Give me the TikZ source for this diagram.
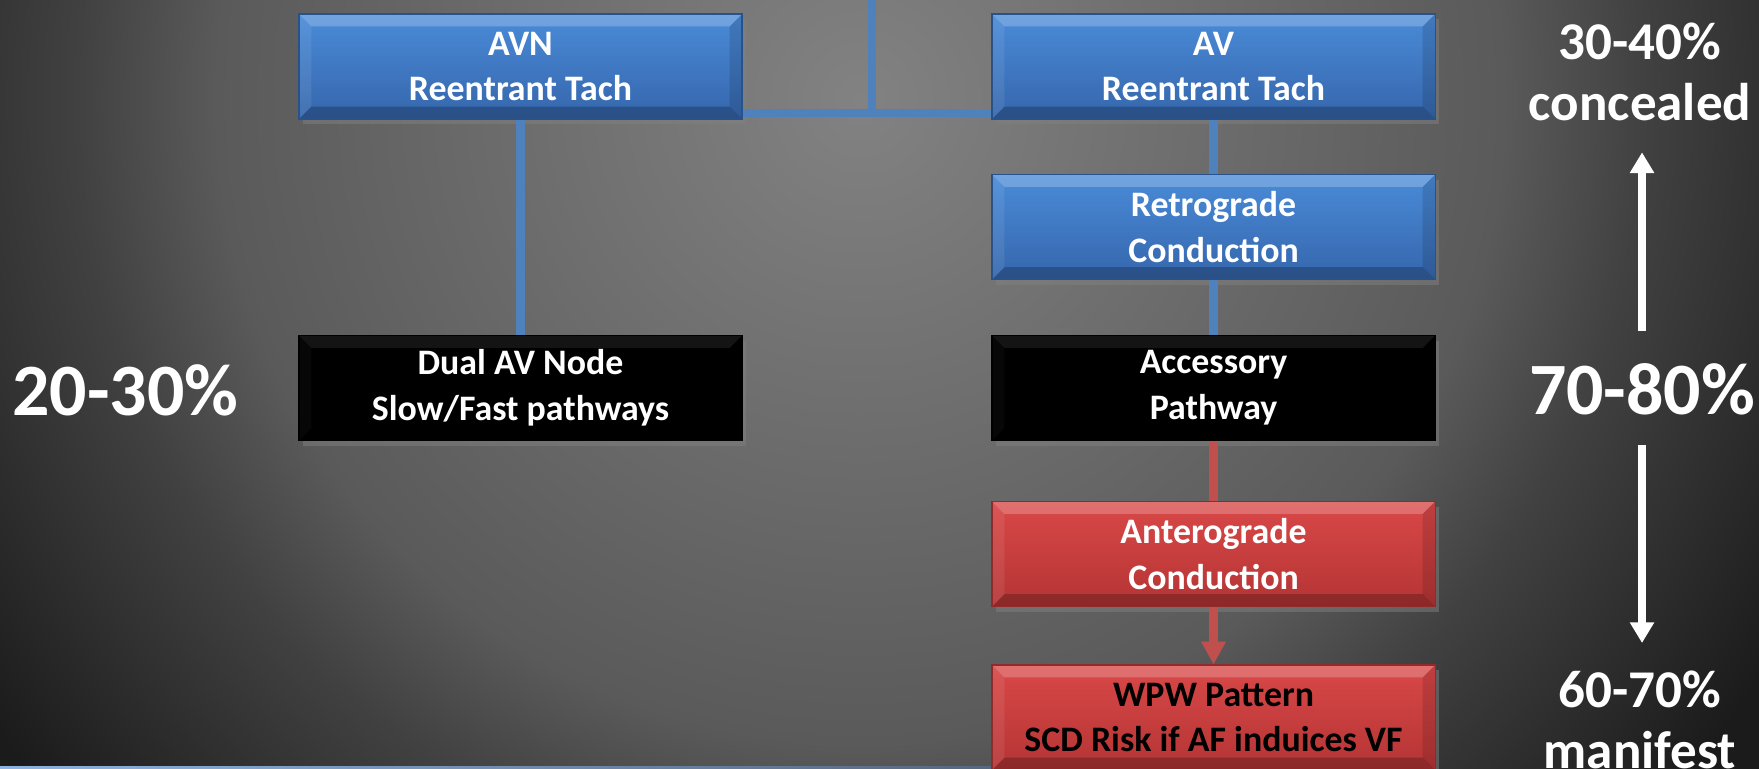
\documentclass[tikz,border=0pt]{standalone}
\usepackage{fontspec}
\setmainfont{Carlito}
\usetikzlibrary{arrows.meta,shadows}

\definecolor{bgA}{gray}{0.51}
\definecolor{bgB}{gray}{0.353}
\definecolor{bgC}{gray}{0.255}
\definecolor{bgD}{gray}{0.105}
\definecolor{boxblueT}{HTML}{4A8BD8}
\definecolor{boxblueB}{HTML}{3566AC}
\definecolor{boxredT}{HTML}{D94848}
\definecolor{boxredB}{HTML}{B53434}
\definecolor{linkblue}{HTML}{4F81BD}
\definecolor{linkred}{HTML}{C0504D}
\definecolor{stripL}{HTML}{8DB3E2}
\definecolor{stripR}{HTML}{56677F}

\pgfdeclareradialshading{slidebg}{\pgfpoint{0bp}{0bp}}{color(0bp)=(bgA); color(13.4bp)=(bgB); color(16.3bp)=(bgC); color(22.3bp)=(bgD); color(50bp)=(bgD)}

\tikzset{
  bevel/.style={path picture={
    \fill[white,opacity=#1] (path picture bounding box.north west) -- (path picture bounding box.north east)
      -- ([shift={(-3.5pt,-3.5pt)}]path picture bounding box.north east) -- ([shift={(3.5pt,-3.5pt)}]path picture bounding box.north west) -- cycle;
    \fill[black,opacity=0.22] (path picture bounding box.south west) -- (path picture bounding box.south east)
      -- ([shift={(-3.5pt,3.5pt)}]path picture bounding box.south east) -- ([shift={(3.5pt,3.5pt)}]path picture bounding box.south west) -- cycle;
    \fill[white,opacity=#1*0.35] (path picture bounding box.north west) -- ([shift={(3.5pt,-3.5pt)}]path picture bounding box.north west)
      -- ([shift={(3.5pt,3.5pt)}]path picture bounding box.south west) -- (path picture bounding box.south west) -- cycle;
    \fill[black,opacity=0.12] (path picture bounding box.north east) -- ([shift={(-3.5pt,-3.5pt)}]path picture bounding box.north east)
      -- ([shift={(-3.5pt,3.5pt)}]path picture bounding box.south east) -- (path picture bounding box.south east) -- cycle;
  }},
  card/.style={rectangle, minimum width=4.43cm, minimum height=1.05cm, inner sep=0pt, align=center,
    text=white, font=\fontsize{10.2}{13}\selectfont\bfseries,
    drop shadow={shadow xshift=1pt, shadow yshift=-1.5pt, opacity=0.5}},
  bluecard/.style={card, bevel=0.22, top color=boxblueT, bottom color=boxblueB, draw=boxblueB!80!black, line width=0.3pt},
  blackcard/.style={card, bevel=0.08, fill=black, draw=black},
  redcard/.style={card, bevel=0.22, top color=boxredT, bottom color=boxredB, draw=boxredB!80!black, line width=0.3pt},
  bluelink/.style={draw=linkblue, line width=2.3pt},
  redlink/.style={draw=linkred, line width=2.3pt},
  pct/.style={inner sep=0pt, text=white, align=center},
  bigpct/.style={pct, font=\fontsize{21}{25}\selectfont\bfseries},
  sidepct/.style={pct, font=\fontsize{15.1}{17.35}\selectfont\bfseries},
  updown/.style={draw=white, line width=2.3pt, -{Triangle[width=6.6pt,length=5.9pt]}}
}

\begin{document}
\begin{tikzpicture}[x=1cm,y=-1cm]
  \useasboundingbox (0,0) rectangle (17.59,7.69);
  \begin{scope}
    \clip (0,0) rectangle (17.59,7.69);
    \fill[bgD] (0,0) rectangle (17.59,7.69);
    \shade[shading=slidebg] (8.6,1.0) circle (12);
  \end{scope}
  \shade[left color=stripL, right color=stripR] (0,7.66) rectangle (9.95,7.69);

  \node[bluecard] (avn) at (5.205,0.665) {AVN\\Reentrant Tach};
  \node[bluecard] (av) at (12.135,0.665) {AV\\Reentrant Tach};
  \node[bluecard] (retro) at (12.135,2.27) {Retrograde\\Conduction};
  \node[blackcard] (dual) at (5.205,3.88) {Dual AV Node\\Slow/Fast pathways};
  \node[blackcard] (acc) at (12.135,3.88) {Accessory\\Pathway};
  \node[redcard] (antero) at (12.135,5.54) {Anterograde\\Conduction};
  \node[redcard, text=black] (wpw) at (12.135,7.175) {WPW Pattern\\SCD Risk if AF induices VF};

  \coordinate (top) at (8.72,0);
  \coordinate (junc) at (8.72,1.13);

  \draw[bluelink] (top) -- (junc);
  \draw[bluelink] (avn.east |- junc) -- (av.west |- junc);
  \draw[bluelink] (avn) -- (dual);
  \draw[bluelink] (av) -- (retro);
  \draw[bluelink] (retro) -- (acc);
  \draw[redlink] (acc) -- (antero);
  \draw[redlink, -{Triangle[width=6.6pt,length=6.5pt]}] (antero) -- (wpw);

  \node[bigpct] (lpct) at (1.255,3.90) {20-30\%};
  \node[bigpct] (rpct) at (16.42,3.89) {70-80\%};
  \node[sidepct, anchor=north] (conc) at (16.40,0.22) {30-40\%\\concealed};
  \node[sidepct, anchor=north] (mani) at (16.40,6.70) {60-70\%\\manifest};

  \draw[updown, shorten <=0.32cm, shorten >=0.31cm] (rpct.north) -- (rpct.north |- conc.south);
  \draw[updown, shorten <=0.30cm, shorten >=0.27cm] (rpct.south) -- (rpct.south |- mani.north);
\end{tikzpicture}
\end{document}
